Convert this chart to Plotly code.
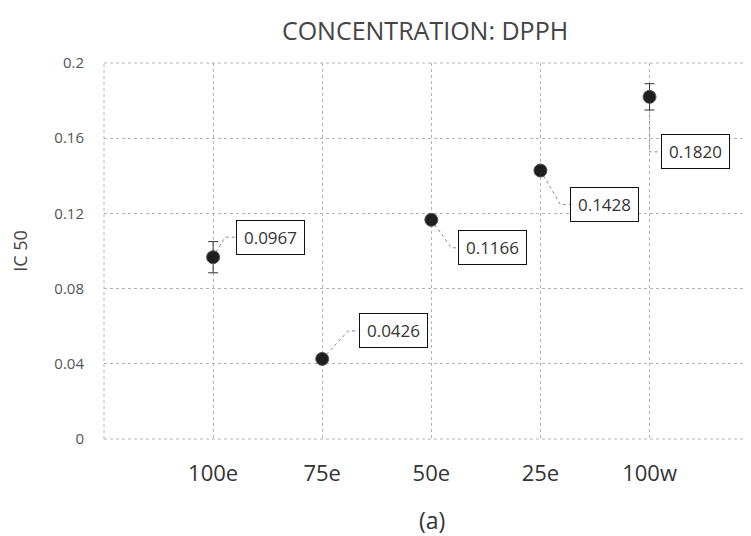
import plotly.graph_objects as go

categories = ["100e", "75e", "50e", "25e", "100w"]
ic50 = [0.0967, 0.0426, 0.1166, 0.1428, 0.1820]
ic50_err = [0.0083, 0.0, 0.0, 0.0, 0.007]
labels = ["0.0967", "0.0426", "0.1166", "0.1428", "0.1820"]
y_ticks = [0, 0.04, 0.08, 0.12, 0.16, 0.2]
y_ticktext = ["0", "0.04", "0.08", "0.12", "0.16", "0.2"]

# label box offsets (pixels, screen: +x right, +y down)
label_dx = [57, 71, 61, 64, 46]
label_dy = [-20, -28, 28, 34, 55]
# leader elbow x (pixels) and box-left x (pixels) relative to point
elbow_dx = [12, 26, 20, 20, 0]
box_left = [22, 36, 27, 30, 11]

FONT = "'Open Sans', sans-serif"
GRID = "#b4b4b4"

# page has an 8px body margin, so the figure is sized to fill the 751x536 window
W, H = 743, 528

fig = go.Figure()
fig.add_trace(go.Scatter(
    x=categories, y=ic50, mode="markers",
    marker=dict(color="#1e1e1e", size=13, line=dict(color="#555", width=1)),
    error_y=dict(type="data", array=ic50_err, visible=True,
                 color="#333", thickness=1, width=5),
    showlegend=False, hoverinfo="skip",
))

shapes = []
annotations = []
for i, c in enumerate(categories):
    dy_up = -label_dy[i]
    shapes.append(dict(
        type="path", xref="x", yref="y", xsizemode="pixel", ysizemode="pixel",
        xanchor=c, yanchor=ic50[i],
        path=f"M 0,0 L {elbow_dx[i]},{dy_up} L {box_left[i]},{dy_up}",
        line=dict(color="#8a8a8a", width=1, dash="dot"), layer="below",
    ))
    annotations.append(dict(
        x=c, y=ic50[i], xref="x", yref="y", text=labels[i], showarrow=False,
        xshift=label_dx[i], yshift=-label_dy[i], width=57,
        font=dict(family=FONT, size=17, color="#333"),
        bgcolor="white", bordercolor="#111", borderwidth=1, borderpad=5,
    ))

# plot-area borders (dotted, like the gridlines)
for x0, x1, y0, y1 in [(0, 0, 0, 1), (0, 1, 0, 0), (0, 1, 1, 1)]:
    shapes.append(dict(type="line", xref="paper", yref="paper", x0=x0, x1=x1, y0=y0, y1=y1,
                       line=dict(color=GRID, width=1, dash="dot"), layer="below"))

annotations.append(dict(
    x=(432 - 104) / 647, y=(439 - 520) / 376, xref="paper", yref="paper", text="(a)",
    showarrow=False, font=dict(family=FONT, size=23, color="#333"),
    xanchor="center", yanchor="middle",
))

fig.update_layout(
    width=W, height=H,
    margin=dict(l=96, r=0, t=55, b=97),
    paper_bgcolor="white", plot_bgcolor="white",
    title=dict(text="CONCENTRATION: DPPH", x=417 / W, xref="container", xanchor="center",
               y=1 - 23 / H, yref="container", yanchor="middle",
               font=dict(family=FONT, size=25, color="#444")),
    font=dict(family=FONT, color="#555"),
    shapes=shapes, annotations=annotations,
    xaxis=dict(type="category", categoryorder="array", categoryarray=categories,
               range=[-1, 4.93], showgrid=True, gridcolor=GRID, griddash="dot",
               zeroline=False, showline=False, ticks="", automargin=False,
               tickfont=dict(family=FONT, size=22, color="#333"),
               ticklabelstandoff=19),
    yaxis=dict(range=[0, 0.2], tickvals=y_ticks, ticktext=y_ticktext,
               showgrid=True, gridcolor=GRID, griddash="dot", zeroline=False,
               showline=False, ticks="", automargin=False,
               tickfont=dict(family=FONT, size=15, color="#555"),
               ticklabelstandoff=19,
               title=dict(text="IC 50", font=dict(family=FONT, size=18, color="#444"),
                          standoff=22)),
)

fig.write_html("out.html")
